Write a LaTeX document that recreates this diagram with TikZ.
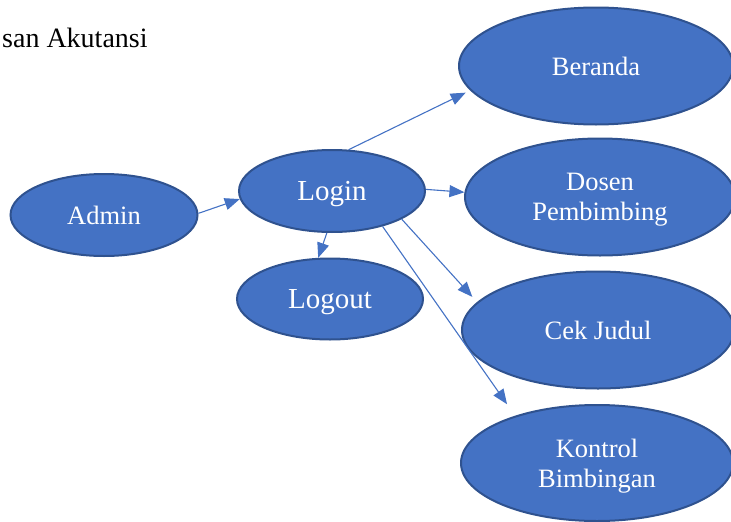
\documentclass[tikz,border=0pt]{standalone}
\usepackage{fontspec}
\setmainfont{Liberation Serif}
\usetikzlibrary{shapes.geometric,arrows.meta}
\definecolor{ucfill}{HTML}{4472C4}
\definecolor{ucline}{HTML}{2F528F}
\tikzset{
  usecase/.style={ellipse, draw=ucline, line width=2pt, fill=ucfill, text=white,
    inner sep=0pt, align=center, text depth=0pt, font=\fontsize{26.5}{30}\selectfont},
  bigcase/.style={usecase, font=\fontsize{29}{32}\selectfont},
  flow/.style={draw=ucfill, line width=1.1pt, -{Triangle[length=15pt,width=12pt]}}
}
\begin{document}
\begin{tikzpicture}[x=1pt,y=-1pt]
  \useasboundingbox (0,0) rectangle (731,522);
  \node[anchor=base west, inner sep=0pt, font=\fontsize{28}{32}\selectfont] (unit) at (2,47) {san Akutansi};
  \node[usecase, minimum width=187pt, minimum height=82pt] (admin)   at (104,215) {Admin};
  \node[bigcase, minimum width=186pt, minimum height=82pt] (login)   at (332,191) {Login};
  \node[bigcase, minimum width=186pt, minimum height=81pt] (logout)  at (330,299) {Logout};
  \node[usecase, minimum width=274pt, minimum height=117pt] (beranda) at (596,66) {Beranda};
  \node[usecase, minimum width=270pt, minimum height=117pt] (dosen)   at (600,197) {Dosen\\Pembimbing};
  \node[usecase, minimum width=272pt, minimum height=117pt] (cek)     at (598,330) {Cek Judul};
  \node[usecase, minimum width=272pt, minimum height=116pt] (kontrol) at (597,463) {Kontrol\\Bimbingan};
  \draw[flow] (admin.1) -- (login.185);
  \draw[flow, shorten >=5pt] (login.68) -- (beranda.191);
  \draw[flow] (login.1) -- (dosen.178);
  \draw[flow] (login.-97) -- (logout.106);
  \draw[flow, shorten >=7pt] (login.-22) -- (cek.167);
  \draw[flow, shorten >=14pt] (login.-35) -- (kontrol.150);
\end{tikzpicture}
\end{document}
